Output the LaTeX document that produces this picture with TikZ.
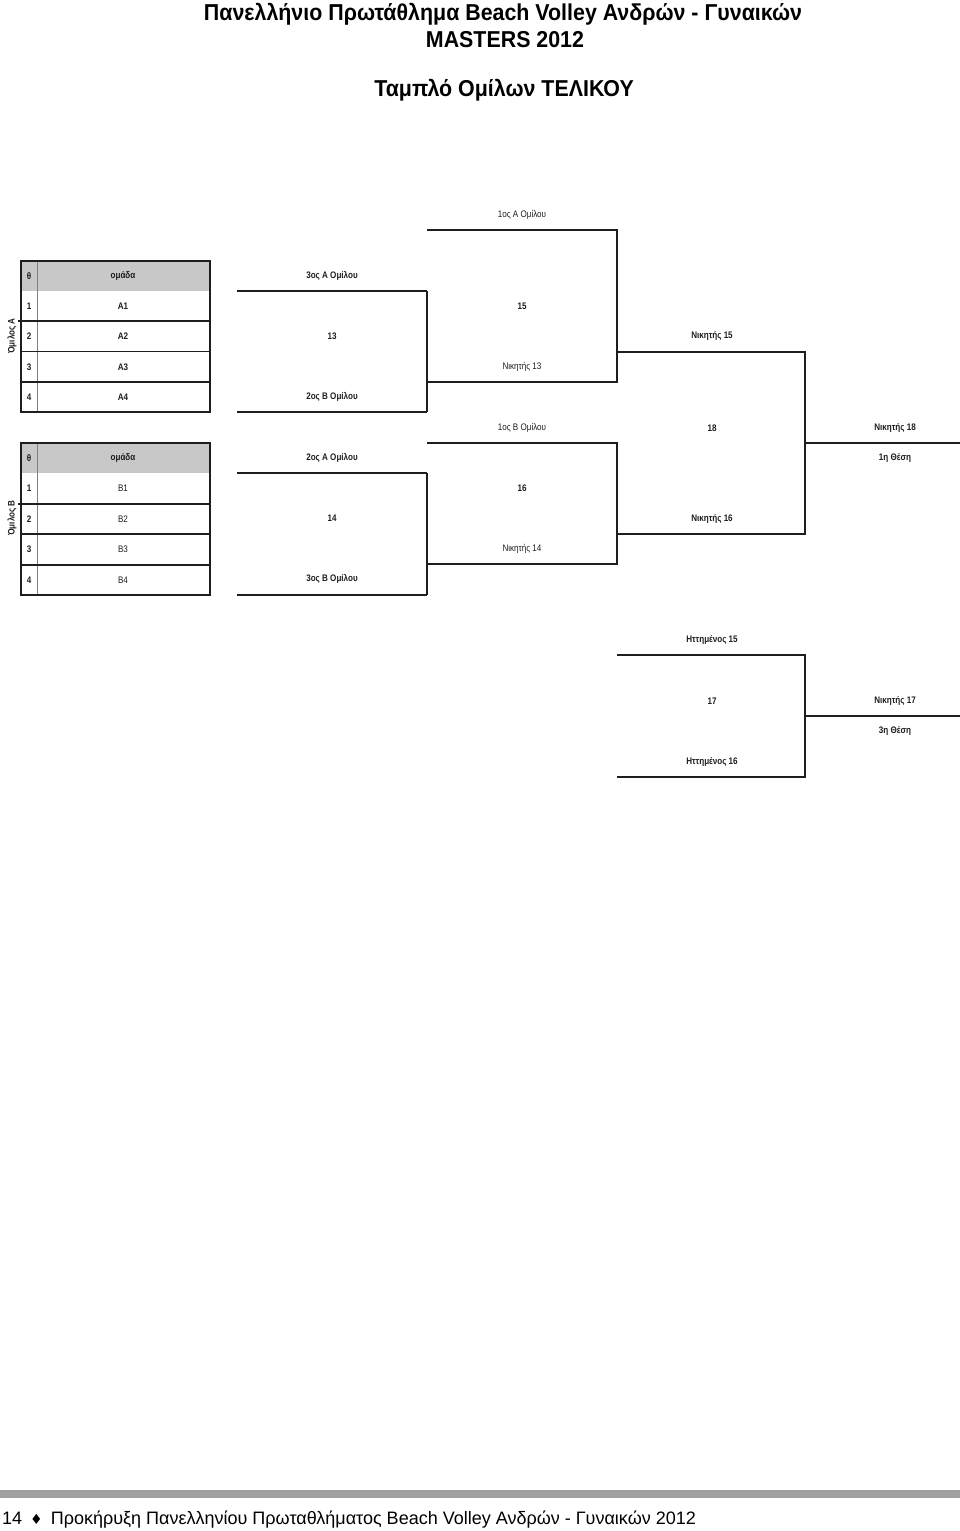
\documentclass[tikz,border=0pt]{standalone}
\usepackage{fontspec}
\setmainfont{Liberation Sans}
\newfontfamily\narrow[FakeStretch=0.85]{Liberation Sans}
\newfontfamily\ttlfont[FakeStretch=0.93]{Liberation Sans}
\newfontfamily\symb{DejaVu Sans}
\definecolor{hdr}{RGB}{200,200,200}
\definecolor{barc}{RGB}{160,160,160}
\definecolor{ink}{RGB}{30,30,30}
\begin{document}
\begin{tikzpicture}[x=1pt,y=-1pt,
  lbl/.style={font=\narrow\fontsize{9.5}{11}\selectfont\bfseries, inner sep=0, text=ink},
  lbll/.style={font=\narrow\fontsize{9.5}{11}\selectfont, inner sep=0, text=ink},
  ttl/.style={font=\ttlfont\fontsize{23}{26}\selectfont\bfseries, inner sep=0},
  ln/.style={line width=1.5pt, ink},
  lnb/.style={line width=2.4pt, ink},
  tbl/.style={line width=1.3pt, ink},
  coldiv/.style={line width=0.8pt, black!50},
  foot/.style={font=\fontsize{18}{20}\selectfont, inner sep=0, anchor=west}]
\useasboundingbox[fill=white] (0,0) rectangle (960,1531);

% titles
\node[ttl] (t1) at (503,14) {Πανελλήνιο Πρωτάθλημα Beach Volley Ανδρών - Γυναικών};
\node[ttl] (t2) at (505,40) {MASTERS 2012};
\node[ttl] (t3) at (504,90) {Ταμπλό Ομίλων ΤΕΛΙΚΟΥ};

% ---------- Table A ----------
\fill[hdr] (21,261) rectangle (210,291);
\draw[coldiv] (37,261) -- (37,412);
\draw[tbl] (18,321) -- (210,321);
\draw[tbl] (21,351.5) -- (210,351.5);
\draw[tbl] (21,382) -- (210,382);
\draw[tbl] (21,261) rectangle (210,412);
\node[lbl] (ah0) at (29,276) {θ};
\node[lbl] (ah1) at (123,276) {ομάδα};
\node[lbl] (an1) at (29,306) {1};
\node[lbl] (an2) at (29,336) {2};
\node[lbl] (an3) at (29,367) {3};
\node[lbl] (an4) at (29,397) {4};
\node[lbl] (at1) at (123,306) {A1};
\node[lbl] (at2) at (123,336) {A2};
\node[lbl] (at3) at (123,367) {A3};
\node[lbl] (at4) at (123,397) {A4};
\node[lbl, rotate=90] (ga) at (12,336) {Όμιλος Α};

% ---------- Table B ----------
\fill[hdr] (21,443) rectangle (210,473);
\draw[coldiv] (37,443) -- (37,595);
\draw[tbl] (18,504) -- (210,504);
\draw[tbl] (21,534) -- (210,534);
\draw[tbl] (21,565) -- (210,565);
\draw[tbl] (21,443) rectangle (210,595);
\node[lbl] (bh0) at (29,458) {θ};
\node[lbl] (bh1) at (123,458) {ομάδα};
\node[lbl] (bn1) at (29,488) {1};
\node[lbl] (bn2) at (29,519) {2};
\node[lbl] (bn3) at (29,549) {3};
\node[lbl] (bn4) at (29,580) {4};
\node[lbll] (bt1) at (123,488) {B1};
\node[lbll] (bt2) at (123,519) {B2};
\node[lbll] (bt3) at (123,549) {B3};
\node[lbll] (bt4) at (123,580) {B4};
\node[lbl, rotate=90] (gb) at (12,518) {Όμιλος Β};

% ---------- bracket coordinates ----------
\coordinate (m13a) at (237,291);  \coordinate (m13b) at (427,291);
\coordinate (m13c) at (237,412);  \coordinate (m13d) at (427,412);
\coordinate (m14a) at (237,473);  \coordinate (m14b) at (427,473);
\coordinate (m14c) at (237,595);  \coordinate (m14d) at (427,595);
\coordinate (m15a) at (427,230);  \coordinate (m15b) at (617,230);
\coordinate (m15c) at (427,382);  \coordinate (m15d) at (617,382);
\coordinate (m16a) at (427,443);  \coordinate (m16b) at (617,443);
\coordinate (m16c) at (427,564);  \coordinate (m16d) at (617,564);
\coordinate (m18a) at (617,352);  \coordinate (m18b) at (805,352);
\coordinate (m18c) at (617,534);  \coordinate (m18d) at (805,534);
\coordinate (f18a) at (805,443);  \coordinate (f18b) at (960,443);
\coordinate (m17a) at (617,655);  \coordinate (m17b) at (805,655);
\coordinate (m17c) at (617,777);  \coordinate (m17d) at (805,777);
\coordinate (f17a) at (805,716);  \coordinate (f17b) at (960,716);

% match 13
\draw[ln] (m13a) -- (m13b);
\draw[ln] (m13c) -- (m13d);
\draw[lnb] (m13b) -- (m13d);
% match 14
\draw[ln] (m14a) -- (m14b);
\draw[ln] (m14c) -- (m14d);
\draw[lnb] (m14b) -- (m14d);
% match 15
\draw[ln] (m15a) -- (m15b) -- (m15d) -- (m15c);
% match 16
\draw[ln] (m16a) -- (m16b) -- (m16d) -- (m16c);
% match 18
\draw[ln] (m18a) -- (m18b) -- (m18d) -- (m18c);
\draw[ln] (f18a) -- (f18b);
% match 17
\draw[ln] (m17a) -- (m17b) -- (m17d) -- (m17c);
\draw[ln] (f17a) -- (f17b);

% labels
\node[lbl] (l13t) at (332,276) {3ος Α Ομίλου};
\node[lbl] (l13)  at (332,336) {13};
\node[lbl] (l13b) at (332,397) {2ος Β Ομίλου};
\node[lbl] (l14t) at (332,458) {2ος Α Ομίλου};
\node[lbl] (l14)  at (332,518) {14};
\node[lbl] (l14b) at (332,579) {3ος Β Ομίλου};
\node[lbll] (l15t) at (522,215) {1ος Α Ομίλου};
\node[lbl]  (l15)  at (522,306) {15};
\node[lbll] (l15b) at (522,367) {Νικητής 13};
\node[lbll] (l16t) at (522,428) {1ος Β Ομίλου};
\node[lbl]  (l16)  at (522,488) {16};
\node[lbll] (l16b) at (522,549) {Νικητής 14};
\node[lbl] (l18t) at (712,336) {Νικητής 15};
\node[lbl] (l18)  at (712,428) {18};
\node[lbl] (l18b) at (712,519) {Νικητής 16};
\node[lbl] (w18)  at (895,428) {Νικητής 18};
\node[lbl] (p1)   at (895,458) {1η Θέση};
\node[lbl] (l17t) at (712,640) {Ηττημένος 15};
\node[lbl] (l17)  at (712,701) {17};
\node[lbl] (l17b) at (712,762) {Ηττημένος 16};
\node[lbl] (w17)  at (895,701) {Νικητής 17};
\node[lbl] (p3)   at (895,731) {3η Θέση};

% footer
\fill[barc] (0,1490) rectangle (960,1498);
\node[foot] (ft) at (2,1520) {14 \,{\symb\fontsize{14}{16}\selectfont ♦}\, Προκήρυξη Πανελληνίου Πρωταθλήματος Beach Volley Ανδρών - Γυναικών 2012};
\end{tikzpicture}
\end{document}
